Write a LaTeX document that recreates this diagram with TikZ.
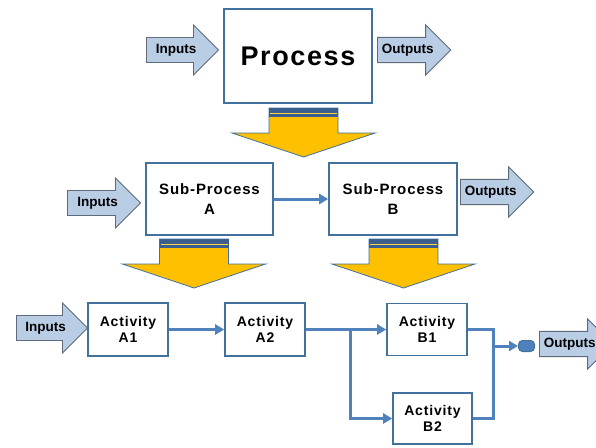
\documentclass[tikz,border=0pt]{standalone}
\usepackage{fontspec}
\setmainfont{Liberation Sans}
\newfontfamily\spacedfont[LetterSpace=6]{Liberation Sans}
\usepackage{tikz}
\usetikzlibrary{positioning, arrows.meta, shapes.arrows}

\definecolor{boxblue}{HTML}{41719C}
\definecolor{linkblue}{HTML}{4F81BD}
\definecolor{arrowfill}{HTML}{B9CDE5}
\definecolor{arrowedge}{HTML}{5F6B7A}
\definecolor{gold}{HTML}{FFC000}
\definecolor{bandblue}{HTML}{3B5E8C}

\begin{document}
\begin{tikzpicture}[
  x=1pt, y=-1pt,
  box/.style={draw=boxblue, line width=1.6pt, fill=white, align=center, font=\spacedfont\bfseries\fontsize{14}{16.5}\selectfont},
  flow/.style={single arrow, draw=arrowedge, line width=0.9pt, fill=arrowfill, anchor=tail,
    minimum width=49pt, inner ysep=6pt, inner xsep=4pt, single arrow head extend=12.5pt,
    font=\bfseries\fontsize{13.5}{15}\selectfont},
  link/.style={draw=linkblue, line width=3pt, line cap=butt},
  arrow/.style={link, -{Triangle[length=9pt, width=10pt]}}
]
\useasboundingbox (0,0) rectangle (596,447);
\clip (0,0) rectangle (596,447);

% main process
\node[box, minimum width=148pt, minimum height=94pt, font=\spacedfont\bfseries\fontsize{27}{30}\selectfont] (proc) at (298,56) {Process};
\node[flow, minimum height=72pt] (procin) at (146,50) {Inputs};
\node[flow, minimum height=68pt] (procout) at (377,50) {Outputs};

% sub-processes
\node[box, minimum width=127pt, minimum height=72pt, font=\spacedfont\bfseries\fontsize{15}{20}\selectfont] (subA) at (209.5,199) {Sub-Process\\A};
\node[box, minimum width=128pt, minimum height=72pt, font=\spacedfont\bfseries\fontsize{15}{20}\selectfont] (subB) at (393,199) {Sub-Process\\B};
\node[flow, minimum height=73pt] (subin) at (67,203) {Inputs};
\node[flow, minimum height=69pt] (subout) at (460,192) {Outputs};
\draw[arrow] (subA.east) -- (subB.west);

% activities
\node[box, minimum width=80pt, minimum height=53pt] (actA1) at (128,329.5) {Activity\\A1};
\node[box, minimum width=80pt, minimum height=53pt] (actA2) at (265,329.5) {Activity\\A2};
\node[box, minimum width=80pt, minimum height=52pt] (actB1) at (427,329.5) {Activity\\B1};
\node[box, minimum width=79pt, minimum height=51pt] (actB2) at (432.5,418.5) {Activity\\B2};
\node[flow, minimum height=71pt] (actin) at (16,328) {Inputs};
\node[draw=boxblue, fill=linkblue, line width=1pt, rounded corners=4pt, minimum width=16pt, minimum height=11pt, inner sep=0pt] (sink) at (526.5,346) {};
\node[flow, minimum height=67pt, minimum width=48pt] (actout) at (539,344) {Outputs};

\coordinate (split) at (350,329.5);
\coordinate (join) at (493,346);
\draw[arrow] (actA1) -- (actA2);
\draw[arrow] (actA2) -- (actB1);
\draw[arrow] (split) |- (actB2.west);
\draw[link] (actB1.east) -| (join) |- (actB2.east);
\draw[arrow] (join) -- (sink.west);

% yellow drill-down arrows
\foreach \cx/\ty in {303.5/108, 194/239, 403.5/239} {
  \draw[fill=gold, draw=boxblue, line width=0.8pt]
    (\cx-34.5,\ty) -- (\cx+34.5,\ty) -- (\cx+34.5,\ty+25) -- (\cx+71.5,\ty+25)
    -- (\cx,\ty+49) -- (\cx-71.5,\ty+25) -- (\cx-34.5,\ty+25) -- cycle;
  \fill[bandblue] (\cx-34.5,\ty) rectangle (\cx+34.5,\ty+9);
  \draw[gold!70!white, line width=0.8pt] (\cx-33.5,\ty+5) -- (\cx+33.5,\ty+5);
}
\end{tikzpicture}
\end{document}
